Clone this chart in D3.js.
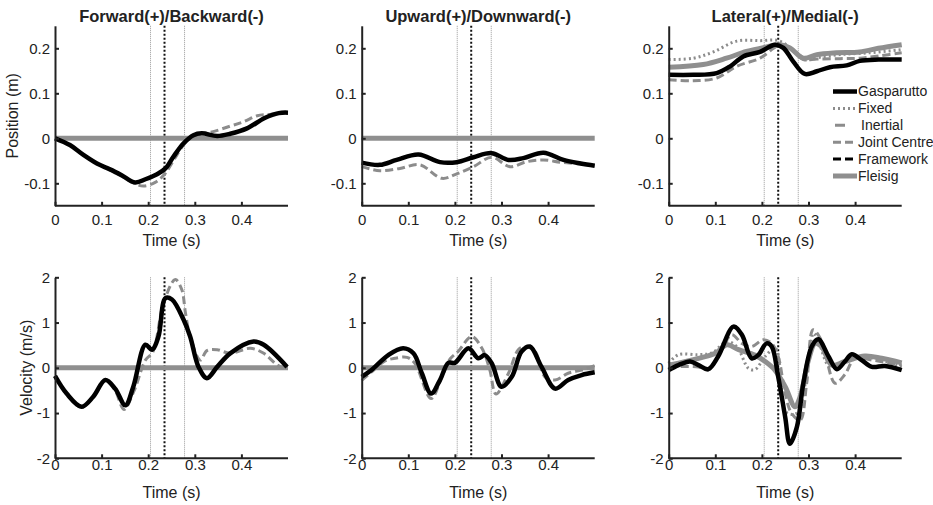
<!DOCTYPE html>
<html>
<head>
<meta charset="utf-8">
<script src="https://cdn.jsdelivr.net/npm/d3@7"></script>
<style>
  body { margin: 0; background: #fff; }
  text { font-family: "Liberation Sans", Arial, sans-serif; fill: #222; }
  .axis path, .axis line { stroke: #222; stroke-width: 2; }
  .axis text { font-size: 15px; font-family: "Liberation Sans", Arial, sans-serif; }
  .title { font-size: 16.5px; font-weight: bold; }
  .axisText { font-size: 16px; font-weight: normal; }
  .legendText { font-size: 14px; font-weight: normal; }
</style>
</head>
<body>
<script>
// time ticks and labels
var timeTicks = [0, 0.1, 0.2, 0.3, 0.4];
var timeTickLabels = ['0', '0.1', '0.2', '0.3', '0.4'];
var posTicks = [-0.1, 0, 0.1, 0.2];
var posTickLabels = ['-0.1', '0', '0.1', '0.2'];
var velTicks = [-2, -1, 0, 1, 2];
var velTickLabels = ['-2', '-1', '0', '1', '2'];

var titles = ['Forward(+)/Backward(-)', 'Upward(+)/Downward(-)', 'Lateral(+)/Medial(-)'];
var legendNames = ['Gasparutto', 'Fixed', 'Inertial', 'Joint Centre', 'Framework', 'Fleisig'];
var eventTimes = [0.205, 0.235, 0.278];

// [time (s), value] pairs
var flatZero = [[0, 0], [0.5, 0]];

var fbPosGasparutto = [[0, 0], [0.032, -0.015], [0.061, -0.037], [0.09, -0.056], [0.118, -0.069], [0.143, -0.082], [0.172, -0.098], [0.194, -0.091], [0.219, -0.08], [0.237, -0.067], [0.254, -0.041], [0.276, -0.011], [0.297, 0.007], [0.315, 0.011], [0.348, 0.005], [0.376, 0.01], [0.412, 0.022], [0.45, 0.045], [0.48, 0.056], [0.5, 0.057]];
var fbPosJoint = [[0, 0], [0.032, -0.015], [0.061, -0.037], [0.09, -0.056], [0.118, -0.07], [0.143, -0.084], [0.17, -0.1], [0.19, -0.106], [0.215, -0.098], [0.235, -0.08], [0.255, -0.048], [0.278, -0.012], [0.3, 0.007], [0.333, 0.013], [0.376, 0.027], [0.405, 0.037], [0.434, 0.05], [0.46, 0.053], [0.5, 0.057]];

var udPosGasparutto = [[0, -0.054], [0.039, -0.059], [0.075, -0.048], [0.122, -0.036], [0.168, -0.053], [0.204, -0.053], [0.24, -0.042], [0.279, -0.033], [0.315, -0.048], [0.347, -0.044], [0.39, -0.032], [0.433, -0.048], [0.47, -0.056], [0.5, -0.061]];
var udPosJoint = [[0, -0.063], [0.039, -0.072], [0.082, -0.067], [0.125, -0.059], [0.172, -0.089], [0.204, -0.079], [0.24, -0.063], [0.279, -0.042], [0.318, -0.063], [0.354, -0.052], [0.39, -0.048], [0.426, -0.053], [0.46, -0.056], [0.5, -0.061]];

var lmPosGasparutto = [[0, 0.141], [0.053, 0.141], [0.103, 0.145], [0.132, 0.16], [0.16, 0.182], [0.196, 0.192], [0.228, 0.208], [0.246, 0.201], [0.267, 0.171], [0.292, 0.143], [0.318, 0.149], [0.346, 0.158], [0.382, 0.162], [0.41, 0.172], [0.45, 0.175], [0.5, 0.175]];
var lmPosFleisig = [[0, 0.158], [0.074, 0.164], [0.124, 0.178], [0.167, 0.193], [0.21, 0.203], [0.239, 0.208], [0.26, 0.201], [0.289, 0.178], [0.318, 0.186], [0.36, 0.19], [0.41, 0.192], [0.45, 0.2], [0.5, 0.208]];
var lmPosFixed = [[0, 0.175], [0.053, 0.178], [0.096, 0.192], [0.146, 0.216], [0.196, 0.217], [0.235, 0.217], [0.267, 0.197], [0.296, 0.175], [0.324, 0.18], [0.367, 0.186], [0.43, 0.19], [0.5, 0.197]];
var lmPosJoint = [[0, 0.13], [0.053, 0.128], [0.103, 0.134], [0.146, 0.16], [0.196, 0.178], [0.225, 0.2], [0.239, 0.208], [0.267, 0.195], [0.289, 0.175], [0.318, 0.176], [0.367, 0.177], [0.41, 0.178], [0.45, 0.183], [0.5, 0.19]];

var fbVelGasparutto = [[0, -0.18], [0.025, -0.57], [0.057, -0.86], [0.082, -0.64], [0.108, -0.27], [0.129, -0.46], [0.151, -0.83], [0.168, -0.42], [0.194, 0.51], [0.208, 0.4], [0.222, 0.69], [0.237, 1.54], [0.251, 1.51], [0.276, 1.06], [0.29, 0.69], [0.308, 0.02], [0.326, -0.23], [0.348, 0.02], [0.376, 0.32], [0.426, 0.58], [0.448, 0.51], [0.498, 0.02]];
var fbVelJoint = [[0, -0.18], [0.025, -0.57], [0.057, -0.88], [0.082, -0.64], [0.108, -0.28], [0.129, -0.5], [0.148, -0.92], [0.17, -0.5], [0.194, 0.17], [0.21, 0.35], [0.233, 1.43], [0.258, 1.95], [0.272, 1.73], [0.28, 1.21], [0.29, 0.69], [0.312, 0.17], [0.326, 0.38], [0.348, 0.4], [0.376, 0.32], [0.419, 0.43], [0.448, 0.32], [0.477, 0.06], [0.498, -0.04]];

var udVelGasparutto = [[0, -0.2], [0.021, -0.05], [0.057, 0.28], [0.089, 0.43], [0.111, 0.32], [0.129, -0.12], [0.149, -0.57], [0.168, -0.27], [0.186, 0.11], [0.2, 0.11], [0.229, 0.43], [0.25, 0.21], [0.264, 0.28], [0.279, 0.1], [0.3, -0.42], [0.322, -0.2], [0.343, 0.36], [0.361, 0.47], [0.386, 0.02], [0.415, -0.46], [0.443, -0.27], [0.472, -0.16], [0.5, -0.1]];
var udVelJoint = [[0, -0.28], [0.02, -0.1], [0.05, 0.15], [0.071, 0.21], [0.097, 0.23], [0.114, 0.1], [0.149, -0.68], [0.172, -0.2], [0.19, 0.2], [0.207, 0.36], [0.236, 0.69], [0.258, 0.43], [0.275, -0.05], [0.288, -0.58], [0.315, -0.12], [0.336, 0.4], [0.35, 0.47], [0.372, 0.36], [0.393, -0.2], [0.415, -0.27], [0.443, -0.12], [0.472, -0.05], [0.5, 0.05]];

var lmVelGasparutto = [[0, -0.05], [0.021, 0.06], [0.046, 0.14], [0.064, 0.06], [0.085, -0.03], [0.106, 0.25], [0.139, 0.91], [0.157, 0.73], [0.178, 0.21], [0.192, 0.28], [0.21, 0.54], [0.221, 0.47], [0.235, -0.2], [0.25, -1.09], [0.26, -1.68], [0.275, -1.31], [0.289, -0.34], [0.307, 0.47], [0.321, 0.63], [0.343, 0.25], [0.361, -0.03], [0.378, 0.14], [0.393, 0.3], [0.414, 0.17], [0.436, 0.02], [0.464, 0.04], [0.5, -0.05]];
var lmVelFleisig = [[0, 0.06], [0.064, 0.21], [0.1, 0.32], [0.125, 0.51], [0.15, 0.4], [0.185, 0.28], [0.207, 0.14], [0.228, -0.05], [0.25, -0.42], [0.271, -0.86], [0.282, -0.64], [0.3, 0.17], [0.314, 0.54], [0.328, 0.47], [0.35, 0.06], [0.378, 0.14], [0.421, 0.26], [0.457, 0.21], [0.5, 0.11]];
var lmVelFixed = [[0, 0.1], [0.021, 0.29], [0.064, 0.29], [0.093, 0.33], [0.125, 0.58], [0.146, 0.47], [0.171, -0.01], [0.185, -0.04], [0.207, 0.25], [0.228, 0.44], [0.239, 0.01], [0.25, -0.96], [0.268, -1.03], [0.279, -0.96], [0.293, -0.35], [0.311, 0.76], [0.321, 0.6], [0.346, 0.02], [0.378, 0.14], [0.421, 0.24], [0.5, 0.02]];
var lmVelJoint = [[0, 0.02], [0.064, 0.02], [0.085, -0.05], [0.106, 0.25], [0.135, 0.73], [0.157, 0.54], [0.178, 0.47], [0.203, 0.62], [0.221, 0.54], [0.235, 0.25], [0.25, -0.57], [0.264, -1.01], [0.282, -1.16], [0.296, -0.35], [0.31, 0.84], [0.328, 0.6], [0.357, -0.34], [0.378, -0.15], [0.4, 0.21], [0.436, 0.17], [0.5, 0.06]];

var styles = {
    'Gasparutto': { color: '#000', width: 4.5, dash: null },
    'Fixed': { color: '#8c8c8c', width: 3, dash: '2,3' },
    'Inertial': { color: '#8c8c8c', width: 3, dash: '10,14' },
    'Joint Centre': { color: '#8c8c8c', width: 3, dash: '8,4' },
    'Framework': { color: '#000', width: 3, dash: '8,4' },
    'Fleisig': { color: '#8f8f8f', width: 5, dash: null }
};

var panels = [
    { col: 0, row: 0, title: titles[0], series: [['Fleisig', flatZero], ['Joint Centre', fbPosJoint], ['Gasparutto', fbPosGasparutto]] },
    { col: 1, row: 0, title: titles[1], series: [['Fleisig', flatZero], ['Joint Centre', udPosJoint], ['Gasparutto', udPosGasparutto]] },
    { col: 2, row: 0, title: titles[2], series: [['Fixed', lmPosFixed], ['Joint Centre', lmPosJoint], ['Fleisig', lmPosFleisig], ['Gasparutto', lmPosGasparutto]] },
    { col: 0, row: 1, series: [['Fleisig', flatZero], ['Joint Centre', fbVelJoint], ['Gasparutto', fbVelGasparutto]] },
    { col: 1, row: 1, series: [['Fleisig', flatZero], ['Joint Centre', udVelJoint], ['Gasparutto', udVelGasparutto]] },
    { col: 2, row: 1, series: [['Fixed', lmVelFixed], ['Joint Centre', lmVelJoint], ['Fleisig', lmVelFleisig], ['Gasparutto', lmVelGasparutto]] }
];

var svgWidth = 933;
var svgHeight = 505;
var colLeft = [55, 361.7, 668.7];
var plotWidth = 233;
var rows = [
    { top: 25.8, height: 180, domain: [-0.15, 0.25], ticks: posTicks, labels: posTickLabels, xPad: 9, label: 'Position (m)', labelX: 18, timeY: 246 },
    { top: 277.3, height: 181, domain: [-2, 2], ticks: velTicks, labels: velTickLabels, xPad: 1, label: 'Velocity (m/s)', labelX: 32, timeY: 498 }
];

var svg = d3.select('body')
    .append('svg')
    .attr('width', svgWidth)
    .attr('height', svgHeight);

panels.forEach(function(p) {
    var r = rows[p.row];
    var g = svg.append('g')
        .attr('transform', `translate(${colLeft[p.col]}, ${r.top})`);

    var xScale = d3.scaleLinear().domain([0, 0.5]).range([0, plotWidth]);
    var yScale = d3.scaleLinear().domain(r.domain).range([r.height, 0]);

    // event lines
    eventTimes.forEach(function(t, i) {
        g.append('line')
            .attr('x1', xScale(t)).attr('x2', xScale(t))
            .attr('y1', 0).attr('y2', r.height)
            .attr('stroke', i === 1 ? '#111' : '#999')
            .attr('stroke-width', i === 1 ? 2 : 1)
            .attr('stroke-dasharray', i === 1 ? '2,2' : '1,1');
    });

    var line = d3.line()
        .x(d => xScale(d[0]))
        .y(d => yScale(d[1]))
        .curve(d3.curveCatmullRom.alpha(0.5));

    p.series.forEach(function(s) {
        var st = styles[s[0]];
        g.append('path')
            .datum(s[1])
            .attr('d', line)
            .attr('fill', 'none')
            .attr('stroke', st.color)
            .attr('stroke-width', st.width)
            .attr('stroke-dasharray', st.dash)
            .attr('stroke-linejoin', 'round');
    });

    var bottomAxis = d3.axisBottom(xScale)
        .tickValues(timeTicks)
        .tickFormat((d, i) => timeTickLabels[i])
        .tickSizeInner(-4)
        .tickSizeOuter(0)
        .tickPadding(r.xPad);
    var leftAxis = d3.axisLeft(yScale)
        .tickValues(r.ticks)
        .tickFormat((d, i) => r.labels[i])
        .tickSizeInner(-4)
        .tickSizeOuter(0)
        .tickPadding(5);

    g.append('g')
        .attr('class', 'axis')
        .attr('transform', `translate(0, ${r.height})`)
        .call(bottomAxis)
        .call(a => a.select('.domain').attr('d', `M0,0H${plotWidth}`));
    g.append('g')
        .attr('class', 'axis')
        .call(leftAxis);

    svg.append('text')
        .attr('class', 'axisText')
        .attr('x', colLeft[p.col] + plotWidth / 2)
        .attr('y', r.timeY)
        .attr('text-anchor', 'middle')
        .text('Time (s)');

    if (p.title) {
        svg.append('text')
            .attr('class', 'title')
            .attr('x', colLeft[p.col] + plotWidth / 2)
            .attr('y', 22)
            .attr('text-anchor', 'middle')
            .text(p.title);
    }

    if (p.col === 0) {
        svg.append('text')
            .attr('class', 'axisText')
            .attr('transform', `translate(${r.labelX}, ${r.top + r.height / 2}) rotate(-90)`)
            .attr('text-anchor', 'middle')
            .text(r.label);
    }
});

// legend in the lateral position panel
var legend = svg.append('g')
    .attr('transform', 'translate(833, 91.5)');
legendNames.forEach(function(name, i) {
    var st = styles[name];
    var y = i * 16.9;
    legend.append('line')
        .attr('x1', 0).attr('x2', 24)
        .attr('y1', y).attr('y2', y)
        .attr('stroke', st.color)
        .attr('stroke-width', st.width)
        .attr('stroke-dasharray', name === 'Inertial' ? '0,2,10,14' : st.dash);
    legend.append('text')
        .attr('class', 'legendText')
        .attr('x', name === 'Inertial' ? 28 : 25)
        .attr('y', y)
        .attr('dy', '0.35em')
        .text(name);
});
</script>
</body>
</html>
